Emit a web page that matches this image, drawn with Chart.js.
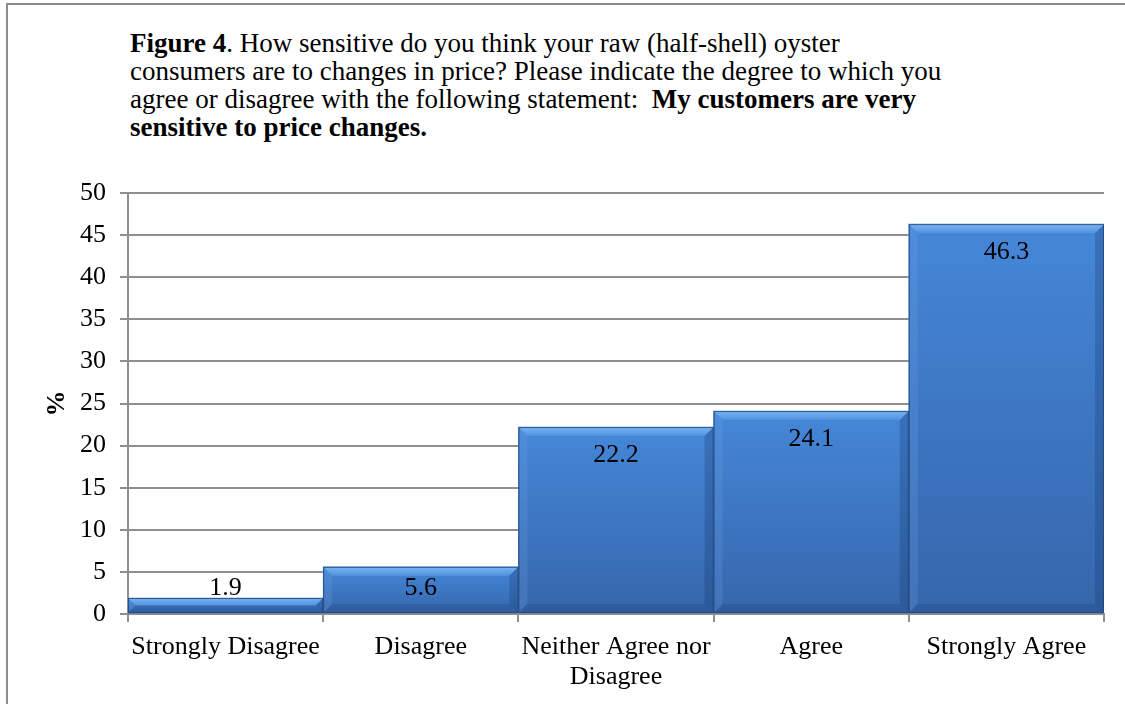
<!DOCTYPE html>
<html>
<head>
<meta charset="utf-8">
<script src="https://cdn.jsdelivr.net/npm/chart.js@4/dist/chart.umd.min.js"></script>
<style>
  html, body { margin: 0; padding: 0; background: #fff; }
  #wrap { position: relative; width: 1125px; height: 704px; overflow: hidden; }
  #frame { position: absolute; left: 6px; top: 3px; width: 1200px; height: 800px;
           border-top: 2px solid #8c8c8c; border-left: 2px solid #8c8c8c; }
  #heading { position: absolute; left: 130px; top: 29px; width: 960px;
             font-family: "Liberation Serif", "Times New Roman", serif;
             font-size: 27px; line-height: 28px; color: #000; }
  canvas { position: absolute; left: 0; top: 0; }
</style>
</head>
<body>
<div id="wrap">
  <div id="frame"></div>
  <div id="heading"><b>Figure 4</b>. How sensitive do you think your raw (half-shell) oyster<br>consumers are to changes in price? Please indicate the degree to which you<br>agree or disagree with the following statement:&nbsp; <b>My customers are very<br>sensitive to price changes.</b></div>
  <canvas id="chart" width="1125" height="704"></canvas>
</div>
<script>
// Response categories (multi-line labels are arrays)
const categories = [
  'Strongly Disagree',
  'Disagree',
  ['Neither Agree nor', 'Disagree'],
  'Agree',
  'Strongly Agree'
];
// Share of respondents, percent
const percentValues = [1.9, 5.6, 22.2, 24.1, 46.3];
// Y axis range and step
const yMin = 0;
const yMax = 50;
const yStep = 5;

const SERIF = '"Liberation Serif", "Times New Roman", serif';
Chart.defaults.font.family = SERIF;
Chart.defaults.color = '#000';

// Per-bar vertical gradient from the bar top down to its base
function barFill(ctx) {
  const chart = ctx.chart;
  if (!chart.chartArea || ctx.type !== 'data') return '#3d7bcb';
  const yScale = chart.scales.y;
  const top = yScale.getPixelForValue(ctx.parsed ? ctx.parsed.y : percentValues[ctx.dataIndex]);
  const base = yScale.getPixelForValue(0);
  const g = chart.ctx.createLinearGradient(0, top, 0, base);
  g.addColorStop(0, '#4587d8');
  g.addColorStop(1, '#3566ab');
  return g;
}

// Bevelled edges on each bar
const bevelPlugin = {
  id: 'bevel',
  afterDatasetsDraw(chart) {
    const ctx = chart.ctx;
    const meta = chart.getDatasetMeta(0);
    meta.data.forEach((bar) => {
      const L = bar.x - bar.width / 2;
      const R = bar.x + bar.width / 2;
      const T = bar.y;
      const B = bar.base;
      const b = Math.min(9, (B - T) / 2);
      ctx.save();
      // top facet
      let g = ctx.createLinearGradient(0, T, 0, T + b);
      g.addColorStop(0, '#7ab4f3');
      g.addColorStop(1, '#5192de');
      ctx.fillStyle = g;
      ctx.beginPath();
      ctx.moveTo(L, T); ctx.lineTo(R, T); ctx.lineTo(R - b, T + b); ctx.lineTo(L + b, T + b);
      ctx.closePath(); ctx.fill();
      // left facet
      ctx.fillStyle = 'rgba(120,170,235,0.20)';
      ctx.beginPath();
      ctx.moveTo(L, T); ctx.lineTo(L + b, T + b); ctx.lineTo(L + b, B - b); ctx.lineTo(L, B);
      ctx.closePath(); ctx.fill();
      // right facet
      ctx.fillStyle = 'rgba(15,45,95,0.24)';
      ctx.beginPath();
      ctx.moveTo(R, T); ctx.lineTo(R, B); ctx.lineTo(R - b, B - b); ctx.lineTo(R - b, T + b);
      ctx.closePath(); ctx.fill();
      // bottom facet
      ctx.fillStyle = 'rgba(15,45,95,0.18)';
      ctx.beginPath();
      ctx.moveTo(L, B); ctx.lineTo(R, B); ctx.lineTo(R - b, B - b); ctx.lineTo(L + b, B - b);
      ctx.closePath(); ctx.fill();
      // outline
      ctx.strokeStyle = 'rgba(35,70,125,0.85)';
      ctx.lineWidth = 1;
      ctx.strokeRect(L + 0.5, T + 0.5, R - L - 1, B - T - 1);
      ctx.restore();
    });
  }
};

// Value labels near the top of each bar
const valueLabelPlugin = {
  id: 'valueLabels',
  afterDatasetsDraw(chart) {
    const ctx = chart.ctx;
    const meta = chart.getDatasetMeta(0);
    const data = chart.data.datasets[0].data;
    ctx.save();
    ctx.font = '26px ' + SERIF;
    ctx.fillStyle = '#000';
    ctx.textAlign = 'center';
    ctx.textBaseline = 'middle';
    meta.data.forEach((bar, i) => {
      const cy = Math.min(bar.y + 28, bar.base - 25);
      ctx.fillText(data[i].toFixed(1), bar.x, cy);
    });
    ctx.restore();
  }
};

new Chart(document.getElementById('chart'), {
  type: 'bar',
  data: {
    labels: categories,
    datasets: [{
      data: percentValues,
      backgroundColor: barFill,
      borderWidth: 0,
      categoryPercentage: 1.0,
      barPercentage: 1.0
    }]
  },
  options: {
    responsive: false,
    animation: false,
    layout: { padding: { left: 0, right: 21, top: 193, bottom: 0 } },
    plugins: { legend: { display: false }, tooltip: { enabled: false } },
    scales: {
      x: {
        grid: { offset: true, drawOnChartArea: false, drawTicks: true, tickLength: 8,
                color: '#8f8f8f', lineWidth: 2 },
        border: { color: '#8f8f8f', width: 2 },
        ticks: { font: { size: 26, lineHeight: 1.12 }, color: '#000', padding: 11,
                 maxRotation: 0, autoSkip: false },
        afterFit(scale) { scale.height = 90; }
      },
      y: {
        min: yMin,
        max: yMax,
        grid: { color: '#8f8f8f', lineWidth: 2, tickLength: 8, drawTicks: true },
        border: { color: '#8f8f8f', width: 2 },
        ticks: { stepSize: yStep, font: { size: 26 }, color: '#000', padding: 14 },
        title: { display: true, text: '%', font: { size: 26, weight: 'bold' },
                 color: '#000', padding: { top: 42, bottom: 0 } },
        afterFit(scale) { scale.width = 128; }
      }
    }
  },
  plugins: [bevelPlugin, valueLabelPlugin]
});
</script>
</body>
</html>
